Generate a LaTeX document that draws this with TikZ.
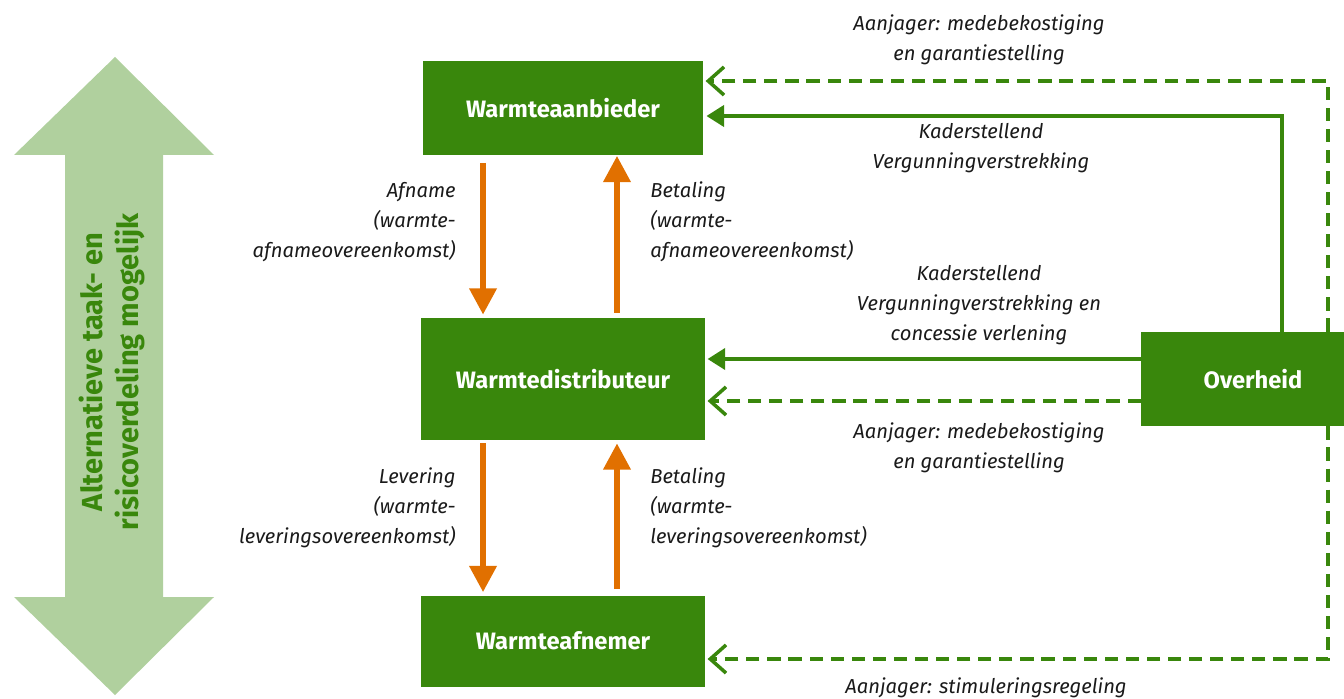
\documentclass[tikz,border=0pt]{standalone}
\usepackage{fontspec}
\setmainfont{Fira Sans}
\usetikzlibrary{arrows.meta,positioning,calc}
\definecolor{rijksgreen}{RGB}{57,135,12}
\definecolor{lightgreen}{RGB}{176,208,158}
\definecolor{orange2}{RGB}{225,112,0}
\definecolor{textgray}{RGB}{26,26,26}
\tikzset{
  actorbox/.style={fill=rijksgreen, text=white, inner sep=0pt, align=center,
    font=\fontsize{13.5}{16}\selectfont\bfseries},
  flow/.style={draw=rijksgreen, line width=2.1pt, -{Triangle[length=10pt,width=12pt]}},
  dashedflow/.style={draw=rijksgreen, line width=2pt, dash pattern=on 7.5pt off 4.5pt,
    -{Straight Barb[length=9pt,width=16pt]}},
  orangeflow/.style={draw=orange2, line width=3.4pt, -{Triangle[length=15pt,width=15pt]}},
  lbl/.style={text=textgray, inner sep=0pt, font=\fontsize{11.5}{17}\selectfont\itshape},
  sidetext/.style={text=rijksgreen, align=center, inner sep=0pt,
    font=\fontsize{16.5}{20.5}\selectfont\bfseries}
}

\begin{document}
\begin{tikzpicture}[x=0.02cm, y=-0.02cm]
\useasboundingbox (0,0) rectangle (1344,699);
\clip (0,0) rectangle (1344,699);

% big double arrow on the left
\fill[lightgreen] (115,57) -- (214,155) -- (163,155) -- (163,597) -- (214,597)
  -- (115,695) -- (14,597) -- (65,597) -- (65,155) -- (14,155) -- cycle;
\node[sidetext, rotate=90] (alt) at (112,372)
{Alternatieve taak- en\\risicoverdeling mogelijk};

% actors
\node[actorbox, minimum width=5.62cm, minimum height=1.9cm] (aanbieder) at (563,108)
{Warmteaanbieder};
\node[actorbox, minimum width=5.7cm, minimum height=2.44cm] (distributeur) at (563,379)
{Warmtedistributeur};
\node[actorbox, minimum width=5.7cm, minimum height=1.82cm] (afnemer) at (563,641)
{Warmteafnemer};
\node[actorbox, minimum width=4.48cm, minimum height=1.88cm] (overheid) at (1253,379)
{Overheid};

% contracts between the actors
\draw[orangeflow, shorten <=4pt, shorten >=1.7pt]
  ([xshift=-1.6cm]aanbieder.south) -- ([xshift=-1.6cm]distributeur.north);
\draw[orangeflow, shorten <=2.8pt]
  ([xshift=1.08cm]distributeur.north) -- ([xshift=1.08cm]aanbieder.south);
\draw[orangeflow, shorten <=1.7pt, shorten >=1.7pt]
  ([xshift=-1.6cm]distributeur.south) -- ([xshift=-1.6cm]afnemer.north);
\draw[orangeflow, shorten <=3.4pt, shorten >=1.7pt]
  ([xshift=1.08cm]afnemer.north) -- ([xshift=1.08cm]distributeur.south);

\node[lbl, align=right, anchor=east] (afname) at (456,222)
{Afname\\(warmte-\\afnameovereenkomst)};
\node[lbl, align=left, anchor=west] (betaling1) at (650,222)
{Betaling\\(warmte-\\afnameovereenkomst)};
\node[lbl, align=right, anchor=east] (levering) at (456,508)
{Levering\\(warmte-\\leveringsovereenkomst)};
\node[lbl, align=left, anchor=west] (betaling2) at (650,508)
{Betaling\\(warmte-\\leveringsovereenkomst)};

% role of the government
\draw[dashedflow, shorten >=1pt]
  ([xshift=1.5cm]overheid.north) |- ([yshift=0.54cm]aanbieder.east);
\draw[flow, shorten >=1.5pt]
  ([xshift=0.58cm]overheid.north) |- ([yshift=-0.16cm]aanbieder.east);
\draw[flow, shorten >=1pt]
  ([yshift=0.4cm]overheid.west) -- ([yshift=0.4cm]distributeur.east);
\draw[dashedflow, shorten >=1pt]
  ([yshift=-0.44cm]overheid.west) -- ([yshift=-0.44cm]distributeur.east);
\draw[dashedflow, shorten >=1pt]
  ([xshift=1.5cm]overheid.south) |- ([yshift=-0.36cm]afnemer.east);

\node[lbl, align=center] (aanjager1) at (979,40)
{Aanjager: medebekostiging\\en garantiestelling};
\node[lbl, align=center] (kader1) at (981,148)
{Kaderstellend\\Vergunningverstrekking};
\node[lbl, align=center] (kader2) at (979,305)
{Kaderstellend\\Vergunningverstrekking en\\concessie verlening};
\node[lbl, align=center] (aanjager2) at (979,448)
{Aanjager: medebekostiging\\en garantiestelling};
\node[lbl, align=center] (aanjager3) at (986,688)
{Aanjager: stimuleringsregeling};
\end{tikzpicture}
\end{document}
